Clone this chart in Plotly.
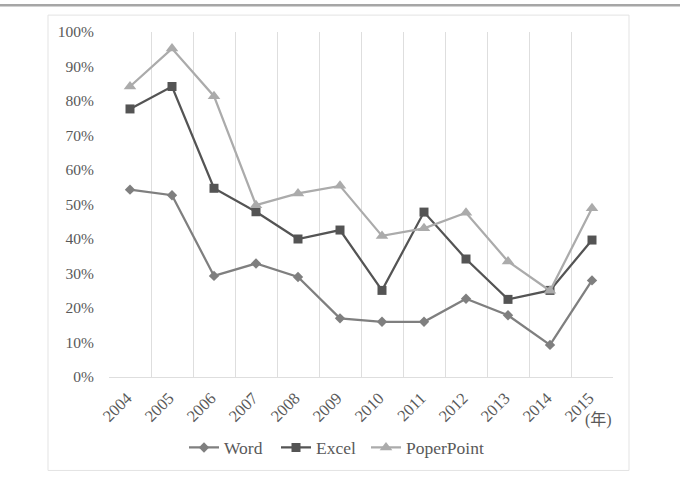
import plotly.graph_objects as go

years = ["2004", "2005", "2006", "2007", "2008", "2009", "2010", "2011", "2012", "2013", "2014", "2015"]
word = [0.543, 0.527, 0.293, 0.329, 0.290, 0.170, 0.160, 0.160, 0.227, 0.179, 0.093, 0.280]
excel = [0.777, 0.842, 0.547, 0.479, 0.400, 0.426, 0.251, 0.478, 0.342, 0.225, 0.251, 0.397]
poperpoint = [0.842, 0.952, 0.814, 0.498, 0.532, 0.554, 0.409, 0.431, 0.476, 0.335, 0.250, 0.489]

W, H = 680, 478
L, R, T, B = 109, 613, 32, 379
pw, ph = R - L, B - T

def px(x):
    return (x - L) / pw

def py(y):
    return (B - y) / ph

FONT = "Liberation Serif, Times New Roman, serif"
TXT = "#595959"

fig = go.Figure()
fig.add_trace(go.Scatter(x=years, y=word, name="Word", mode="lines+markers", legend="legend",
                         line=dict(color="#7f7f7f", width=2.25),
                         marker=dict(symbol="diamond", size=8, color="#7f7f7f")))
fig.add_trace(go.Scatter(x=years, y=excel, name="Excel", mode="lines+markers", legend="legend2",
                         line=dict(color="#545454", width=2.25),
                         marker=dict(symbol="square", size=9, color="#545454")))
fig.add_trace(go.Scatter(x=years, y=poperpoint, name="PoperPoint", mode="lines+markers", legend="legend3",
                         line=dict(color="#ababab", width=2.25),
                         marker=dict(symbol="triangle-up", size=11, color="#ababab")))

def leg(xpix):
    return dict(orientation="h", x=px(xpix), xanchor="left", y=py(450), yanchor="middle",
                font=dict(family=FONT, size=17.5, color=TXT), itemwidth=30,
                bgcolor="rgba(0,0,0,0)")

fig.update_layout(
    width=W, height=H,
    margin=dict(l=L, r=W - R, t=T, b=H - B, pad=0),
    paper_bgcolor="white", plot_bgcolor="white",
    font=dict(family=FONT, size=15, color=TXT),
    showlegend=True,
    legend=leg(184), legend2=leg(276), legend3=leg(366),
    xaxis=dict(type="category", tickson="boundaries", showgrid=True, gridcolor="#dedede",
               gridwidth=1, showline=True, linecolor="#dedede", linewidth=1,
               ticks="", tickangle=-45, ticklabelstandoff=4, ticklabelshift=-3,
               tickfont=dict(family=FONT, size=16.5, color=TXT), zeroline=False,
               range=[-0.5, 11.5]),
    yaxis=dict(range=[0, 1], tickvals=[i / 10 for i in range(11)], tickformat=".0%",
               showgrid=False, zeroline=False, showline=False, ticks="",
               ticklabelstandoff=14,
               tickfont=dict(family=FONT, size=15.5, color=TXT)),
    shapes=[
        dict(type="line", xref="paper", yref="paper", x0=px(0), x1=px(W), y0=py(5), y1=py(5),
             line=dict(color="#a6a6a6", width=2.5)),
        dict(type="rect", xref="paper", yref="paper", x0=px(48), x1=px(629), y0=py(473), y1=py(15),
             line=dict(color="#e3e3e3", width=1), layer="below"),
    ],
    annotations=[
        dict(text="(年)", xref="paper", yref="paper", x=px(598), y=py(422), showarrow=False,
             xanchor="center", yanchor="middle",
             font=dict(family="Liberation Serif, Noto Sans CJK JP", size=16, color=TXT)),
    ],
)

fig.write_html("out.html")
